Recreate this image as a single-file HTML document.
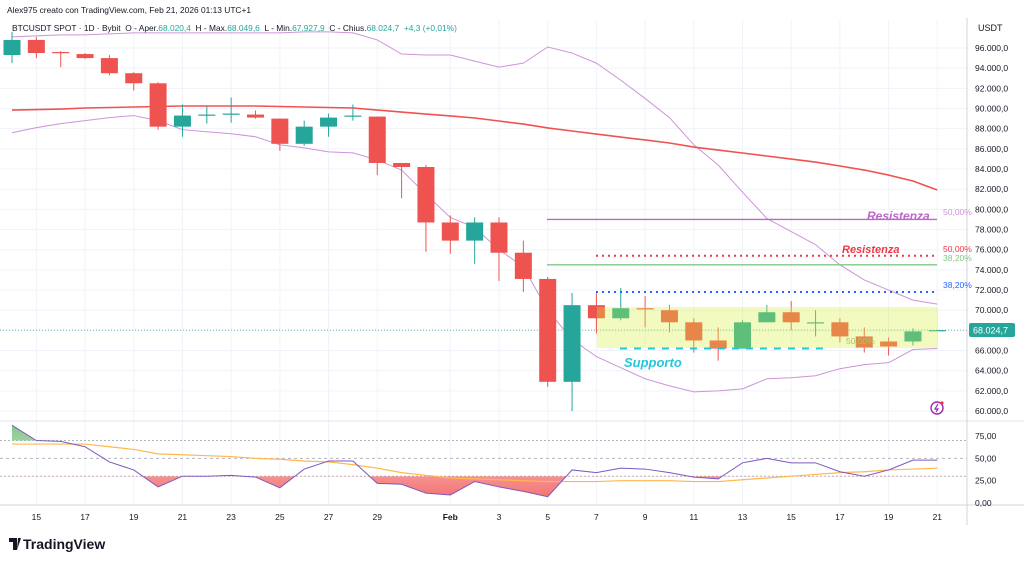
<!DOCTYPE html>
<html><head><meta charset="utf-8">
<style>
html,body{margin:0;padding:0;background:#fff;width:1024px;height:564px;overflow:hidden;font-family:"Liberation Sans",sans-serif;}
svg text{font-family:"Liberation Sans",sans-serif;}
</style></head>
<body>
<svg id="chart" width="1024" height="564" viewBox="0 0 1024 564" xmlns="http://www.w3.org/2000/svg">
<g id="grid"></g>
<g id="overlay"></g>
<g id="bands"></g>
<g id="candles"></g>
<rect x="597" y="307" width="341" height="41" fill="rgba(215,240,60,0.33)"/>
<g id="lines2"></g>
<g id="rsi"></g>
<g id="axes"></g>
<text x="7" y="13" font-size="8.4" fill="#131722">Alex975 creato con TradingView.com, Feb 21, 2026 01:13 UTC+1</text>
<text x="12" y="31" font-size="8.4" fill="#131722" xml:space="preserve">BTCUSDT SPOT · 1D · Bybit  O - Aper.<tspan fill="#26a69a">68.020,4</tspan>  H - Max.<tspan fill="#26a69a">68.049,6</tspan>  L - Min.<tspan fill="#26a69a">67.927,9</tspan>  C - Chius.<tspan fill="#26a69a">68.024,7  +4,3 (+0,01%)</tspan></text>
<text x="978" y="31" font-size="9" fill="#131722">USDT</text>
<text x="867" y="220" font-size="12" font-style="italic" font-weight="bold" fill="#ba68c8">Resistenza</text>
<text x="842" y="253" font-size="11" font-style="italic" font-weight="bold" fill="#f23645">Resistenza</text>
<text x="624" y="367" font-size="13" font-style="italic" font-weight="bold" fill="#26c6da">Supporto</text>
<text x="943" y="215" font-size="8.5" fill="#ce93d8">50,00%</text>
<text x="943" y="252" font-size="8.5" fill="#f23645">50,00%</text>
<text x="943" y="261" font-size="8.5" fill="#81c784">38,20%</text>
<text x="943" y="288" font-size="8.5" fill="#2962ff">38,20%</text>
<text x="846" y="344" font-size="8.5" fill="#9ccc65">50,00%</text>
<rect x="969" y="323" width="46" height="14" rx="2" fill="#26a69a"/>
<text x="973" y="333.5" font-size="9" fill="#fff">68.024,7</text>
<g><circle cx="937" cy="408" r="6" fill="none" stroke="#9c27b0" stroke-width="1.4"/><path d="M938 404 L935 409 L938 409 L936 412" fill="none" stroke="#9c27b0" stroke-width="1.2"/><circle cx="942" cy="403" r="1.6" fill="#f23645"/></g>
<g><path d="M9 538 H17 V550 H13 V542 H9 Z M18 538 H21 L17 550" fill="#131722"/><text x="23" y="549" font-size="14" font-weight="bold" fill="#131722">TradingView</text></g>
</svg>
<script>
const open  = [95300,96800,95600,95400,95000,93500,92500,88200,89300,89400,89400,89000,86500,88200,89200,89200,84600,84200,78700,76900,78700,75700,73100,62900,70500,69200,70200,70000,68800,67000,66200,68800,69800,68800,68800,67400,66900,66900,68020];
const high  = [97600,97100,95700,95500,95300,93600,92600,90400,90200,91100,89800,89000,88800,89500,90400,89200,84600,84400,79400,79200,79200,76900,73300,71700,71700,72200,71400,70500,69200,68300,69000,70500,70900,70000,69200,68300,67300,68200,68050];
const low   = [94500,95000,94100,94900,93300,91800,87900,87200,88500,88600,89000,85800,86300,87200,88800,83400,81100,75800,75600,74600,72900,71800,62400,60000,67700,69000,68300,67800,65800,65000,66200,68800,68000,67400,66800,65800,65500,66500,67930];
const close = [96800,95500,95500,95000,93500,92500,88200,89300,89400,89500,89100,86500,88200,89100,89300,84600,84200,78700,76900,78700,75700,73100,62900,70500,69200,70200,70100,68800,67000,66200,68800,69800,68800,68800,67400,66300,66400,67900,68025];
const upper = [97100,97200,97300,97300,97400,97500,97500,97500,97500,97500,97500,97500,97600,97600,97500,96800,95400,95300,95300,94700,94100,94500,96100,95500,94500,92800,91000,89100,86400,84400,81700,79100,77800,76500,74500,73000,72000,71000,70600];
const lower = [87600,88100,88500,88800,89100,89300,88800,87900,87700,87500,87200,86400,86100,85700,85600,84900,83900,81500,79200,78200,76000,74300,70000,67100,65400,64300,63200,62500,61900,62000,62200,63200,63300,63500,64200,64600,64800,66100,66200];
const ma    = [89850,89900,89950,90050,90100,90150,90200,90250,90250,90250,90250,90200,90150,90100,90050,89850,89650,89450,89260,89060,88760,88460,88070,87770,87470,87170,86880,86580,86180,85880,85590,85290,84990,84690,84300,83900,83400,82810,81920];
const rsiVals = [87,70,69,63,46,37,18,30,30,31,29,17,38,47,47,22,21,11,9,24,18,13,7,37,34,39,38,34,29,27,45,50,45,45,35,30,37,48,48];
const rsiMa   = [66,66,66,66,63,60,55,54,53,52,50,49,47,46,43,39,34,31,28,27,26,25,24,24,24,25,25,25,24,24,26,28,30,32,34,35,37,38,39];
const priceTicks = [96000,94000,92000,90000,88000,86000,84000,82000,80000,78000,76000,74000,72000,70000,68000,66000,64000,62000,60000];
const rsiTicks = [75,50,25,0];
const dateLabels = ["15","17","19","21","23","25","27","29","Feb","3","5","7","9","11","13","15","17","19","21"];
const dateIdx    = [1,3,5,7,9,11,13,15,18,20,22,24,26,28,30,32,34,36,38];

const NS="http://www.w3.org/2000/svg";
const X = i => 12 + i*24.35;
const Y = p => 48 + (96000-p)/2000*20.17;
const YR = v => 503 - v*0.893;
function mk(tag, attrs, parent){const e=document.createElementNS(NS,tag);for(const k in attrs)e.setAttribute(k,attrs[k]);parent.appendChild(e);return e;}

const grid=document.getElementById('grid');
priceTicks.forEach(p=>{const l=mk('line',{x1:0,x2:967,y1:Y(p),y2:Y(p),stroke:'#f0f3fa','stroke-width':1},grid);

});
dateIdx.forEach(i=>{const l=mk('line',{x1:X(i),x2:X(i),y1:20,y2:505,stroke:'#f0f3fa','stroke-width':1},grid);

});

const ov=document.getElementById('overlay');
const lp=mk('line',{x1:0,x2:967,y1:Y(68025),y2:Y(68025),stroke:'#26a69a','stroke-width':1,'stroke-dasharray':'1 2',opacity:0.7},ov);



const bands=document.getElementById('bands');
function poly(arr, yf, attrs, parent, name){const pts=arr.map((v,i)=>X(i)+','+yf(v)).join(' ');const e=mk('polyline',Object.assign({points:pts,fill:'none'},attrs),parent);

return e;}
poly(upper,Y,{stroke:'#ce93d8','stroke-width':1},bands,'upper-band');
poly(lower,Y,{stroke:'#ce93d8','stroke-width':1},bands,'lower-band');
poly(ma,Y,{stroke:'#ef5350','stroke-width':1.6},bands,'moving-average');

const cg=document.getElementById('candles');
open.forEach((o,i)=>{const c=close[i];const up=c>=o;const col=up?'#26a69a':'#ef5350';const x=X(i);
const w=mk('line',{x1:x,x2:x,y1:Y(high[i]),y2:Y(low[i]),stroke:col,'stroke-width':1},cg);


const top=Y(Math.max(o,c)),h=Math.max(1.2,Math.abs(Y(o)-Y(c)));
const b=mk('rect',{x:x-8.5,y:top,width:17,height:h,fill:col},cg);

});

const l2=document.getElementById('lines2');
[[547,937,79000,'#ba68c8','','resistance-line-purple',1.4],[596,937,75400,'#f23645','2 4','resistance-line-red',2],[547,937,74500,'#81c784','','fib-line-green',1.4],[596,937,71800,'#2962ff','2 4','fib-line-blue',2],[620,830,66200,'#26c6da','7 7','support-line',2]].forEach(a=>{
const e=mk('line',{x1:a[0],x2:a[1],y1:Y(a[2]),y2:Y(a[2]),stroke:a[3],'stroke-width':a[6],'stroke-dasharray':a[4]},l2);

});

const rp=document.getElementById('rsi');
const sep=mk('line',{x1:0,x2:1024,y1:421,y2:421,stroke:'#e0e3eb','stroke-width':1},rp);


[[70,'2 2'],[50,'3 3'],[30,'2 2']].forEach(b=>{const e=mk('line',{x1:0,x2:967,y1:YR(b[0]),y2:YR(b[0]),stroke:'#b2b5be','stroke-width':1,'stroke-dasharray':b[1]},rp);

});
const defs=mk('defs',{},rp);
const cp1=mk('clipPath',{id:'below30'},defs);mk('rect',{x:0,y:YR(30),width:967,height:100},cp1);
const cp2=mk('clipPath',{id:'above70'},defs);mk('rect',{x:0,y:400,width:967,height:YR(70)-400},cp2);
const g1=mk('linearGradient',{id:'gr',x1:0,y1:0,x2:0,y2:1},defs);mk('stop',{offset:0,'stop-color':'#ffcdd2'},g1);mk('stop',{offset:1,'stop-color':'#ef5350'},g1);
const g2=mk('linearGradient',{id:'gg',x1:0,y1:1,x2:0,y2:0},defs);mk('stop',{offset:0,'stop-color':'#e8f5e9'},g2);mk('stop',{offset:1,'stop-color':'#66bb6a'},g2);
const pts=rsiVals.map((v,i)=>X(i)+','+YR(v)).join(' ');
const f1=mk('polygon',{points:X(0)+','+YR(30)+' '+pts+' '+X(rsiVals.length-1)+','+YR(30),fill:'url(#gr)','clip-path':'url(#below30)',opacity:0.8},rp);


const f2=mk('polygon',{points:X(0)+','+YR(70)+' '+pts+' '+X(rsiVals.length-1)+','+YR(70),fill:'url(#gg)','clip-path':'url(#above70)',opacity:0.8},rp);


poly(rsiMa,YR,{stroke:'#ffb74d','stroke-width':1.2},rp,'rsi-ma-line');
poly(rsiVals,YR,{stroke:'#7e57c2','stroke-width':1},rp,'rsi-line');

const ax=document.getElementById('axes');
const va=mk('line',{x1:967,x2:967,y1:18,y2:525,stroke:'#d1d4dc','stroke-width':1},ax);


const ha=mk('line',{x1:0,x2:1024,y1:505,y2:505,stroke:'#d1d4dc','stroke-width':1},ax);


priceTicks.forEach(p=>{if(p===68000)return;const t=mk('text',{x:975,y:Y(p)+3,'font-size':8.5,fill:'#131722'},ax);t.textContent=(p/1000).toFixed(3)+',0';

});
rsiTicks.forEach(v=>{const t=mk('text',{x:975,y:YR(v)+3,'font-size':8.5,fill:'#131722'},ax);t.textContent=v.toFixed(2).replace('.',',');

});
dateLabels.forEach((s,k)=>{const t=mk('text',{x:X(dateIdx[k]),y:520,'font-size':8.5,fill:'#131722','text-anchor':'middle','font-weight':s==='Feb'?'bold':'normal'},ax);t.textContent=s;

});
</script>
</body></html>
